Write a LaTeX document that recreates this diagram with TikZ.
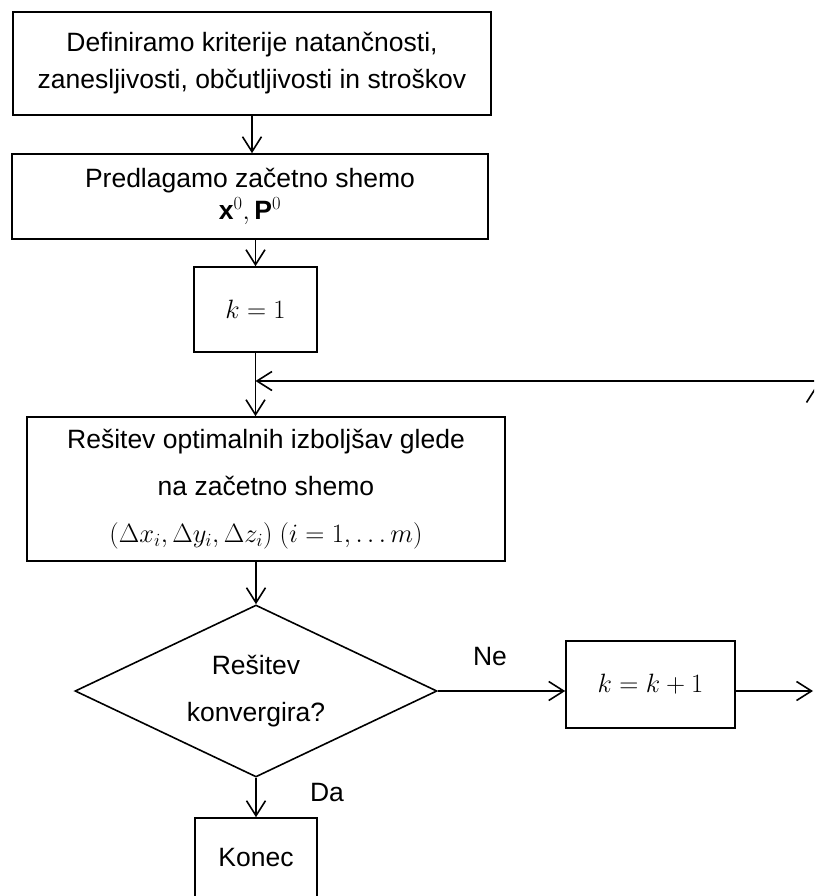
\RequirePackage{fix-cm}
\documentclass[tikz,border=0pt]{standalone}
\usepackage{fontspec}
\setmainfont{Liberation Sans}
\usetikzlibrary{arrows.meta,shapes.geometric}

\begin{document}
\begin{tikzpicture}[x=1pt,y=-1pt,line width=1.6pt,
		font=\fontsize{26.5}{37}\selectfont,
		box/.style={draw, rectangle, align=center, inner sep=0pt},
		arr/.style={-{Straight Barb[length=15pt,width=19pt]}}]
		%%%%% START %%%%%
		
		\fill[white] (0,0) rectangle (814,896);
		\clip (0,0) rectangle (814,896);
		
		\node[box, minimum width=478pt, minimum height=103pt] (crit) at (252,63.5) {Definiramo kriterije natančnosti,\\zanesljivosti, občutljivosti in stroškov};
		\node[box, minimum width=476pt, minimum height=85pt] (init) at (250,196.5) {Predlagamo začetno shemo\\[-5pt]$\mathbf{x}^0,\mathbf{P}^0$};
		\node[box, minimum width=123pt, minimum height=85pt] (kone) at (255.5,309.5) {$k=1$};
		\node[box, minimum width=478pt, minimum height=144pt] (solve) at (266,489) {Rešitev optimalnih izboljšav glede\\[10pt]na začetno shemo\\[10pt]$(\Delta x_i,\Delta y_i,\Delta z_i)\ (i=1,\ldots m)$};
		\node[draw, diamond, aspect=2.1, inner sep=0pt, minimum width=362pt, minimum height=172pt, align=center] (conv) at (256,691) {Rešitev\\[10pt]konvergira?};
		\node[box, minimum width=169pt, minimum height=87pt] (knext) at (650.5,684.5) {$k=k+1$};
		\node[box, minimum width=122pt, minimum height=80pt] (stop) at (256,858) {Konec};
		
		\node (ne) at (490,657) {Ne};
		\node (da) at (327,793) {Da};
		
		\coordinate (rturn) at (816,381);
		\coordinate (rup) at (816,386);
		\coordinate (rbase) at (816,691);
		\coordinate (kout) at (813,691);
		
		\draw[arr] (crit.south) -- (crit.south |- init.north);
		\draw[arr] (init.south -| kone.north) -- (kone.north);
		\draw[arr] (kone.south) -- (kone.south |- solve.north);
		\draw[arr] (solve.south -| conv.north) -- (conv.north);
		\draw[arr] (conv.east) -- (conv.east -| knext.west);
		\draw[arr] (knext.east |- conv.east) -- (kout);
		\draw[arr] (rbase) -- (rup);
		\draw[arr] (rturn) -- (kone.south |- rturn);
		\draw[arr] (conv.south) -- (conv.south |- stop.north);
		
		%%%%% END %%%%%
	\end{tikzpicture}
\end{document}
